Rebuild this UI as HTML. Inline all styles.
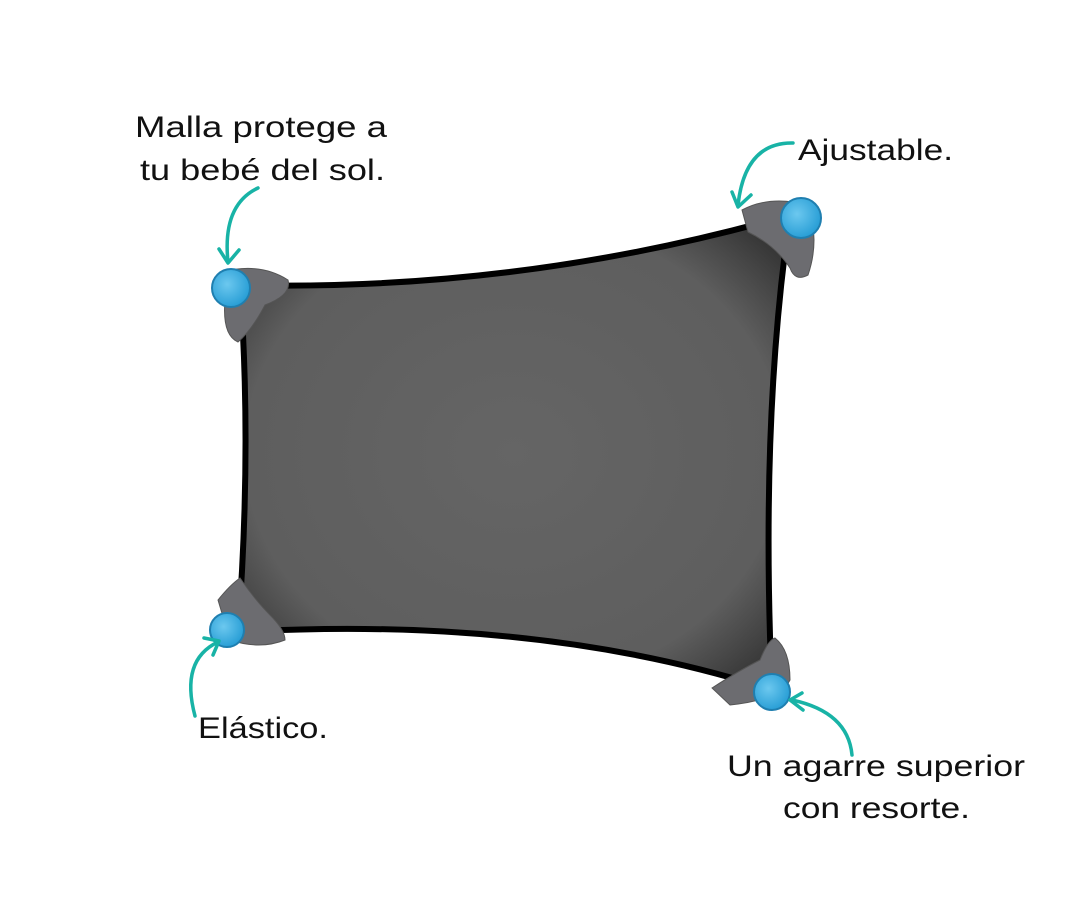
<!DOCTYPE html>
<html><head><meta charset="utf-8"><style>
html,body{margin:0;padding:0;background:#fff;}
svg{display:block}
text{font-family:"Liberation Sans",sans-serif;font-size:30px;fill:#111;}
</style></head><body>
<svg width="1080" height="900" viewBox="0 0 1080 900">
<defs>
<radialGradient id="g" cx="0.5" cy="0.5" r="0.65">
<stop offset="0" stop-color="#656565"/><stop offset="0.75" stop-color="#5e5e5e"/><stop offset="1" stop-color="#333"/>
</radialGradient>
<radialGradient id="b" cx="0.4" cy="0.4" r="0.6">
<stop offset="0" stop-color="#6cc8ef"/><stop offset="1" stop-color="#2a9fd6"/>
</radialGradient>
</defs>
<path d="M240,285 Q520,292 790,215 Q760,420 772,690 Q540,615 238,632 Q252,450 240,285 Z" fill="url(#g)" stroke="#000" stroke-width="6" stroke-linejoin="round"/>
<g fill="#6c6c70" stroke="#555" stroke-width="1">
<path d="M222,272 Q260,262 288,280 Q292,295 265,305 Q252,330 238,342 Q222,335 225,300 Z"/>
<path d="M742,210 Q770,195 808,205 Q820,240 808,275 Q795,282 790,268 Q775,245 748,232 Z"/>
<path d="M218,600 Q230,585 240,578 Q255,600 270,615 Q285,630 285,640 Q260,650 230,640 Z"/>
<path d="M712,688 Q740,670 760,660 Q768,640 775,638 Q790,650 790,680 Q780,700 730,705 Z"/>
</g>
<g fill="url(#b)" stroke="#1f7fb0" stroke-width="2">
<circle cx="231" cy="288" r="19"/>
<circle cx="801" cy="218" r="20"/>
<circle cx="227" cy="630" r="17"/>
<circle cx="772" cy="692" r="18"/>
</g>
<g fill="none" stroke="#18b3a6" stroke-width="3.5" stroke-linecap="round" stroke-linejoin="round">
<path d="M258,188 Q222,205 228,262"/><path d="M219,249 L228,263 L239,250"/>
<path d="M793,143 Q745,142 738,205"/><path d="M732,192 L738,207 L751,195"/>
<path d="M195,716 Q180,660 218,642"/><path d="M204,638 L219,641 L213,655"/>
<path d="M852,755 Q848,712 792,700"/><path d="M802,693 L790,700 L803,710"/>
</g>
<g lengthAdjust="spacingAndGlyphs">
<text x="135" y="137" textLength="252" lengthAdjust="spacingAndGlyphs">Malla protege a</text>
<text x="140" y="180" textLength="245" lengthAdjust="spacingAndGlyphs">tu bebé del sol.</text>
<text x="798" y="160" textLength="155" lengthAdjust="spacingAndGlyphs">Ajustable.</text>
<text x="198" y="738" textLength="130" lengthAdjust="spacingAndGlyphs">Elástico.</text>
<text x="727" y="776" textLength="298" lengthAdjust="spacingAndGlyphs">Un agarre superior</text>
<text x="783" y="818" textLength="187" lengthAdjust="spacingAndGlyphs">con resorte.</text>
</g>
</svg>
</body></html>
